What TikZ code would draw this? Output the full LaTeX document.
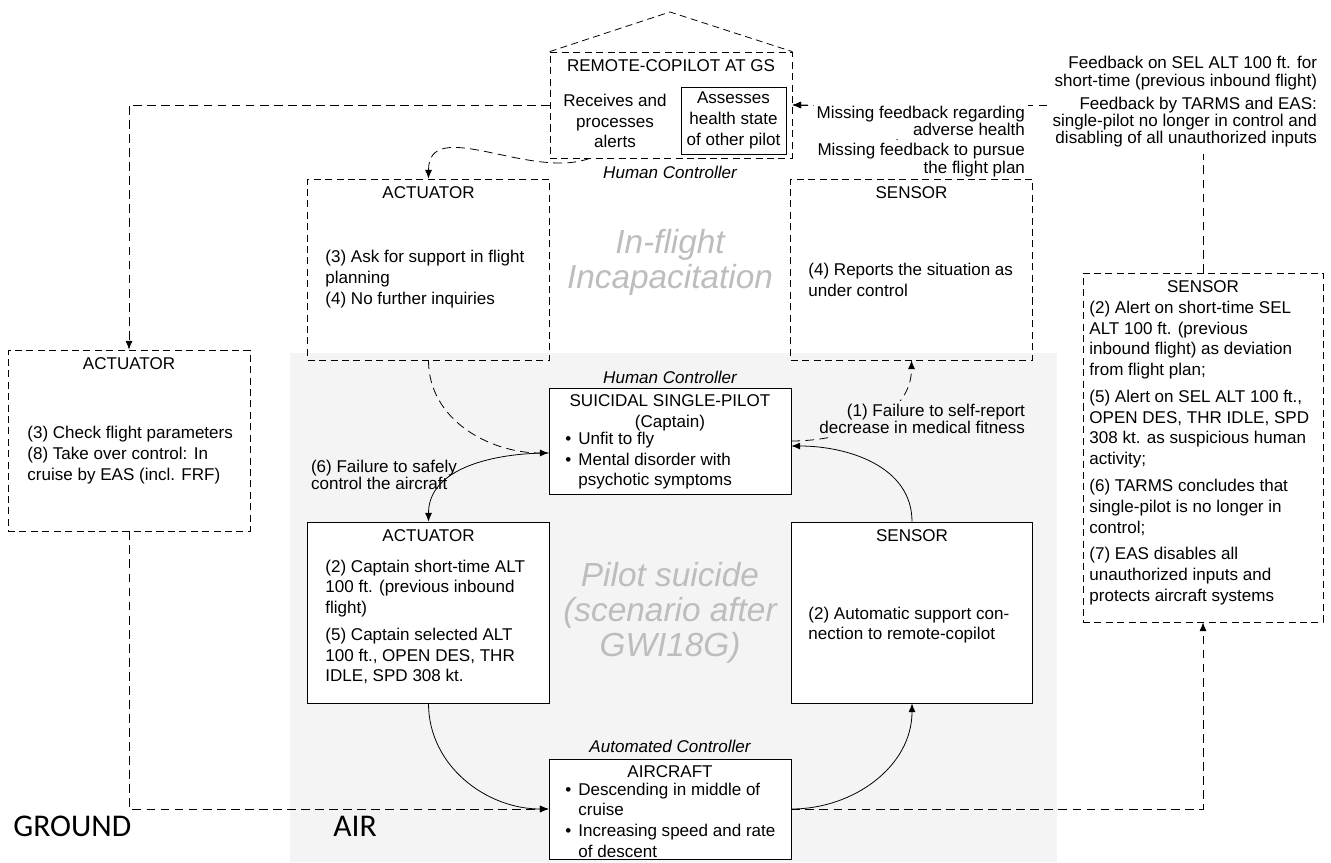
\documentclass[tikz,border=0pt]{standalone}
\usepackage{fontspec}
\setmainfont{Liberation Sans}
\newfontfamily\calfont{Carlito}
\usetikzlibrary{positioning,arrows.meta,calc}
\definecolor{airgray}{HTML}{F4F4F4}
\definecolor{wmark}{HTML}{BDBDBD}
\tikzset{
  ctrl/.style={x=0.02cm,y=-0.02cm,>={Latex[length=5pt,width=4pt]},line width=0.45pt,
    font=\fontsize{9.7}{11.8}\selectfont},
  blk/.style={draw,fill=white,minimum width=4.83cm,minimum height=3.62cm,inner sep=0pt},
  dblk/.style={blk,fill=none,dash pattern=on 4pt off 2.5pt},
  fb/.style={dash pattern=on 5pt off 3pt},
  hdr/.style={inner sep=0pt},
  txt/.style={align=left,inner sep=0pt,anchor=west},
  ital/.style={font=\fontsize{9.7}{11.8}\selectfont\itshape},
  lbl/.style={align=right,anchor=east,fill=white,inner sep=1.5pt,font=\fontsize{9.7}{9.9}\selectfont},
  wm/.style={text=wmark,font=\fontsize{19}{20}\selectfont\itshape,align=center},
  zone/.style={anchor=west,inner sep=0pt,font=\calfont\fontsize{18}{20}\selectfont},
}

\begin{document}
\begin{tikzpicture}[ctrl]
  \useasboundingbox (0,0) rectangle (1331,862);
  \fill[airgray] (290,353) rectangle (1057,862);

  % remote copilot on the ground
  \node[dblk,minimum width=4.84cm,minimum height=2.12cm] (gs) at (671,105) {};
  \coordinate (roof) at (670,12);
  \draw[dash pattern=on 4pt off 2.5pt] (gs.north west) -- (roof) -- (gs.north east);
  \node[hdr,below=0.16cm of gs.north] (gsh) {REMOTE-COPILOT AT GS};
  \node[align=center,inner sep=0pt] (gsrx) at (615,121) {Receives and\\processes\\alerts};
  \node[draw,align=center,minimum width=2.1cm,minimum height=1.34cm,inner sep=0pt] (gsas) at (733.5,120.5) {Assesses\\health state\\of other pilot};
  \node[ital] (hc1) at (670,172) {Human Controller};

  % in-flight incapacitation loop
  \node[dblk] (act1) at (428.5,269.5) {};
  \node[hdr,below=0.16cm of act1.north] {ACTUATOR};
  \node[txt] at (325,279) {(3) Ask for support in flight\\planning\\(4) No further inquiries};
  \node[dblk] (sen1) at (911.5,269.5) {};
  \node[hdr,below=0.16cm of sen1.north] {SENSOR};
  \node[txt] at (808,280) {(4) Reports the situation as\\under control};
  \node[wm] at (670,262) {In-flight\\Incapacitation};

  % ground actuator and sensor
  \node[dblk,minimum width=4.84cm] (gact) at (129,440.5) {};
  \node[hdr,below=0.16cm of gact.north] {ACTUATOR};
  \node[txt] at (27,455) {(3) Check flight parameters\\(8) Take over control: In\\cruise by EAS (incl. FRF)};
  \node[dblk,minimum width=4.8cm,minimum height=6.98cm] (rsen) at (1203,447.5) {};
  \node[hdr,below=0.16cm of rsen.north] {SENSOR};
  \node[txt] at (1089,453) {(2) Alert on short-time SEL\\ALT 100 ft. (previous\\inbound flight) as deviation\\from flight plan;\\[3.5pt]%
    (5) Alert on SEL ALT 100 ft.,\\OPEN DES, THR IDLE, SPD\\308 kt. as suspicious human\\activity;\\[3.5pt]%
    (6) TARMS concludes that\\single-pilot is no longer in\\control;\\[3.5pt]%
    (7) EAS disables all\\unauthorized inputs and\\protects aircraft systems};

  % pilot suicide loop
  \node[blk,minimum width=4.84cm,minimum height=2.12cm] (sp) at (670,441) {};
  \node[hdr,align=center,below=0.14cm of sp.north] {SUICIDAL SINGLE-PILOT\\(Captain)};
  \node[txt] at (565,461) {\begin{tabular}{@{}l@{\hspace{4pt}}l@{}}\textbullet&Unfit to fly\\\textbullet&Mental disorder with\\&psychotic symptoms\end{tabular}};
  \node[ital] (hc2) at (670,377) {Human Controller};
  \node[blk] (act2) at (428.5,612.5) {};
  \node[hdr,below=0.16cm of act2.north] {ACTUATOR};
  \node[txt] at (325,622) {(2) Captain short-time ALT\\100 ft. (previous inbound\\flight)\\[3.5pt]%
    (5) Captain selected ALT\\100 ft., OPEN DES, THR\\IDLE, SPD 308 kt.};
  \node[blk] (sen2) at (912,612.5) {};
  \node[hdr,below=0.16cm of sen2.north] {SENSOR};
  \node[txt] at (808,625) {(2) Automatic support con-\\nection to remote-copilot};
  \node[blk,minimum width=4.84cm,minimum height=2cm] (air) at (670,809) {};
  \node[hdr,below=0.14cm of air.north] {AIRCRAFT};
  \node[txt] at (565,822) {\begin{tabular}{@{}l@{\hspace{4pt}}l@{}}\textbullet&Descending in middle of\\&cruise\\\textbullet&Increasing speed and rate\\&of descent\end{tabular}};
  \node[ital] (ac) at (670,746) {Automated Controller};
  \node[wm] at (670,613) {Pilot suicide\\(scenario after\\GWI18G)};

  % control and feedback paths
  \draw[fb,->] (gs.west) -| (gact.north);
  \draw[fb,->] (gact.south) |- (air.west);
  \draw[fb,->] (air.east) -| (rsen.south);
  \draw[fb,->] (rsen.north) |- (gs.east);
  \draw[fb,->] (sen1.north) to[out=90,in=0] (gs.east);
  \draw[fb,->] ([xshift=0.8cm]gs.south west) to[out=200,in=90] (act1.north);
  \draw[fb,->] (act1.south) to[out=-90,in=180] ([yshift=-0.24cm]sp.west);
  \draw[->] ([yshift=-0.24cm]sp.west) to[out=180,in=90] (act2.north);
  \draw[->] (act2.south) to[out=-90,in=180] (air.west);
  \draw[->] (air.east) to[out=0,in=-90] (sen2.south);
  \draw[->] (sen2.north) to[out=90,in=0] ([yshift=-0.1cm]sp.east);
  \draw[fb,->] (sp.east) to[out=0,in=-90] (sen1.south);

  % labels
  \node[lbl] (mf1) at (1028,121) {Missing feedback regarding\\adverse health};
  \node[lbl] (mf2) at (1028,160) {Missing feedback to pursue\\the flight plan};
  \node[lbl] (fb1) at (1320,73) {Feedback on SEL ALT 100 ft. for\\short-time (previous inbound flight)};
  \node[lbl,inner ysep=4pt] (fb2) at (1320,122) {Feedback by TARMS and EAS:\\single-pilot no longer in control and\\disabling of all unauthorized inputs};
  \node[lbl,fill=airgray] (f1) at (1028,419) {(1) Failure to self-report\\decrease in medical fitness};
  \node[lbl,fill=none,align=left,anchor=west] (f6) at (308,475) {(6) Failure to safely\\control the aircraft};

  \node[zone] (gnd) at (13,826) {GROUND};
  \node[zone] (air-lbl) at (333,826) {AIR};
\end{tikzpicture}
\end{document}
